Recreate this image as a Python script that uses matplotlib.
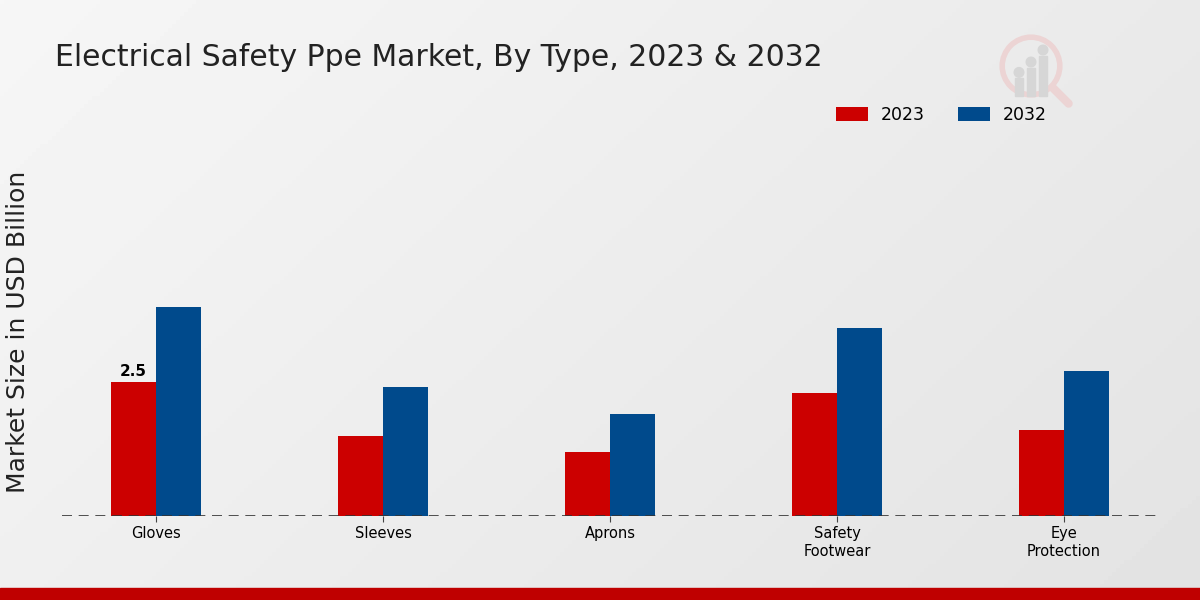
import matplotlib as mpl
from matplotlib import pyplot as plt
from matplotlib.patches import Circle, Rectangle
import numpy as np

plt.rcParams['font.family'] = ['DejaVu Sans']

categories = ['Gloves', 'Sleeves', 'Aprons', 'Safety\nFootwear', 'Eye\nProtection']
years = ['2023', '2032']
values_2023 = [2.5, 1.5, 1.2, 2.3, 1.6]
values_2032 = [3.9, 2.4, 1.9, 3.5, 2.7]
colors = ['#cc0000', '#004a8c']

fig = plt.figure(figsize=(12, 6), dpi=100)

# background gradient, light top-left to grey right
bg = fig.add_axes([0, 0, 1, 1], zorder=-10)
xx, yy = np.meshgrid(np.linspace(0, 1, 300), np.linspace(0, 1, 150))
grad = 0.965 - 0.075 * (0.65 * xx + 0.35 * yy)
bg.imshow(grad, cmap='gray', vmin=0, vmax=1, extent=[0, 1, 0, 1],
          aspect='auto', origin='upper')
bg.add_patch(Rectangle((0, 0), 1, 12 / 600, color='#bf0000', transform=bg.transAxes))
bg.set_xlim(0, 1)
bg.set_ylim(0, 1)
bg.axis('off')

# faint logo
lg = fig.add_axes([995 / 1200, 1 - 110 / 600, 80 / 1200, 80 / 600], zorder=-5)
lg.add_patch(Circle((0.45, 0.55), 0.36, fill=False, lw=4, color='#ecd4d4'))
lg.plot([0.72, 0.92], [0.28, 0.08], color='#ecd4d4', lw=6, solid_capstyle='round')
for bx, bh in [(0.3, 0.22), (0.45, 0.35), (0.6, 0.5)]:
    lg.add_patch(Rectangle((bx - 0.05, 0.18), 0.1, bh, color='#d6d6d6'))
    lg.add_patch(Circle((bx, 0.18 + bh + 0.07), 0.06, color='#d6d6d6'))
lg.set_xlim(0, 1)
lg.set_ylim(0, 1)
lg.axis('off')

ax = fig.add_axes([62 / 1200, 84 / 600, 1096 / 1200, 366 / 600])
ax.patch.set_alpha(0)

x = np.arange(len(categories))
w = 0.2
ax.bar(x - w / 2, values_2023, w, color=colors[0], label=years[0])
ax.bar(x + w / 2, values_2032, w, color=colors[1], label=years[1])
ax.text(x[0] - w / 2, values_2023[0] + 0.05, '2.5', ha='center', va='bottom',
        fontsize=11, fontweight='bold')

ax.set_xlim(-0.414, 4.414)
ax.set_ylim(0, 366 / 53.6)
ax.axhline(0, color='#333333', lw=1.2, ls=(0, (6, 4)), zorder=3)
for s in ax.spines.values():
    s.set_visible(False)
ax.set_yticks([])
ax.set_xticks(x)
ax.set_xticklabels(categories, fontsize=10.5, linespacing=1.3)
ax.tick_params(axis='x', length=4, color='#444444', pad=3)

ax.legend(loc='center right', bbox_to_anchor=((1052 - 62) / 1096, 1 + 35 / 366),
          ncol=2, frameon=False, fontsize=12.5, handlelength=1.85, handleheight=0.9,
          handletextpad=0.75, columnspacing=1.9, borderaxespad=0, borderpad=0.3)

fig.text(18 / 1200, 1 - 332 / 600, 'Market Size in USD Billion', fontsize=18,
         rotation=90, ha='center', va='center', color='#222222')
fig.text(55 / 1200, 1 - 57 / 600, 'Electrical Safety Ppe Market, By Type, 2023 & 2032',
         fontsize=21.5, va='center', ha='left', color='#222222')

fig.savefig('out.png', dpi=100)
